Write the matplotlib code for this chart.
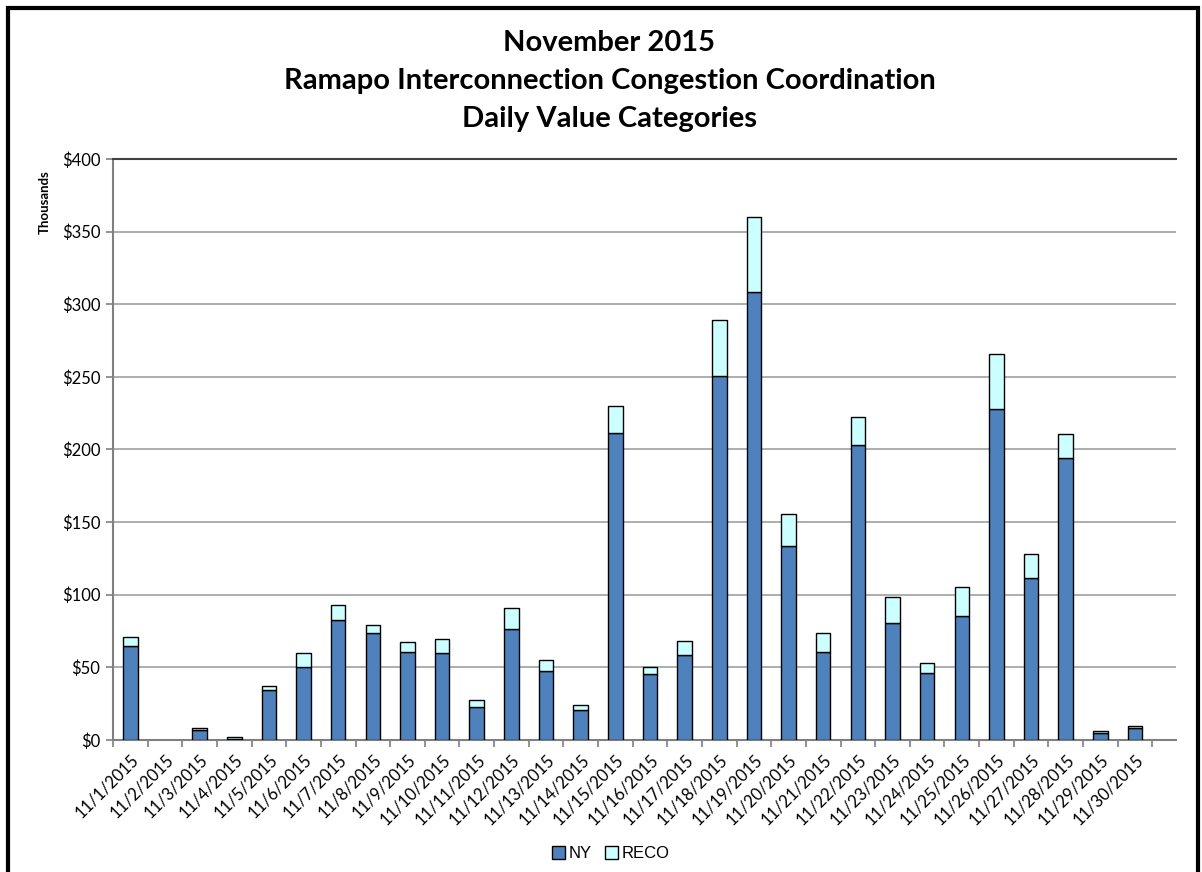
import matplotlib.pyplot as plt
from matplotlib.patches import Rectangle
import numpy as np

days = ['11/%d/2015' % d for d in range(1, 31)]

# thousands of dollars
ny = [65.0, 0, 6.7, 1.0, 34.5, 50.5, 82.4, 73.6, 60.9, 59.7, 22.7, 76.2, 47.2, 20.8, 211.0,
      45.1, 58.8, 250.6, 308.4, 133.3, 60.9, 202.8, 80.8, 46.1, 85.4, 227.8, 111.5, 193.9, 5.0, 8.3]
reco = [5.8, 0, 1.6, 0.9, 2.8, 9.5, 10.4, 5.4, 6.3, 10.0, 4.7, 14.6, 8.1, 3.5, 18.9,
        4.9, 9.2, 38.8, 51.4, 22.5, 12.7, 19.8, 17.4, 6.7, 20.1, 38.2, 16.2, 17.0, 1.3, 1.4]

ny_color = '#4F81BD'
reco_color = '#CCFFFF'

fig = plt.figure(figsize=(12.02, 8.72), dpi=100)
ax = fig.add_axes([0.094, 0.1514, 0.884, 0.6663])

x = np.arange(len(days))
ny_arr = np.array(ny)
reco_arr = np.array(reco)
# empty days get no bar at all (no edge line on the axis)
keep = (ny_arr + reco_arr) > 0
ax.bar(x[keep], ny_arr[keep], width=0.42, color=ny_color, edgecolor='black', linewidth=1.0,
       label='NY', zorder=3)
ax.bar(x[keep], reco_arr[keep], width=0.42, bottom=ny_arr[keep], color=reco_color,
       edgecolor='black', linewidth=1.0, label='RECO', zorder=3)

ax.set_xlim(-0.5, 30.17)
ax.set_ylim(0, 400)
ax.set_yticks(range(0, 401, 50))
ax.set_yticklabels(['$%d' % v for v in range(0, 401, 50)], fontsize=12, family='Lato')
ax.yaxis.grid(True, color='#A0A0A0', linewidth=1.2, zorder=0)
ax.set_axisbelow(True)

ax.set_xticks(x)
ax.set_xticklabels(days, rotation=45, ha='right', rotation_mode='anchor', fontsize=12, family='Lato')
ax.tick_params(axis='x', length=0, pad=8)
ax.set_xticks(np.arange(-0.5, 30, 1), minor=True)
ax.tick_params(axis='x', which='minor', length=5, color='#808080', width=1.2)
ax.tick_params(axis='y', length=5, color='#808080', width=1.2, pad=4)

for s in ['left', 'bottom']:
    ax.spines[s].set_color('#808080')
    ax.spines[s].set_linewidth(1.5)
ax.spines['top'].set_color('#404040')
ax.spines['top'].set_linewidth(1.5)
ax.spines['right'].set_visible(False)

ax.set_ylabel('Thousands', fontsize=9.5, fontweight='bold', family='Lato')
ax.yaxis.set_label_coords(-0.059, 0.925)

fig.text(0.507, 0.951, 'November 2015', ha='center', va='center', fontsize=21, fontweight='bold', family='Lato')
fig.text(0.507, 0.907, 'Ramapo Interconnection Congestion Coordination', ha='center', va='center',
         fontsize=21, fontweight='bold', family='Lato')
fig.text(0.507, 0.863, 'Daily Value Categories', ha='center', va='center', fontsize=21,
         fontweight='bold', family='Lato')

leg = fig.legend(loc='center', bbox_to_anchor=(0.508, 0.021), ncol=2, frameon=False,
                 handlelength=0.8, handleheight=0.8, handletextpad=0.2,
                 columnspacing=0.8, prop={'family': 'Liberation Sans', 'size': 12})

fig.patches.append(Rectangle((8 / 1202, -0.02), 1190 / 1202, 1.0 - 8 / 872 + 0.02,
                             transform=fig.transFigure, fill=False, edgecolor='black',
                             linewidth=3, zorder=10))

fig.savefig('out.png', dpi=100)
